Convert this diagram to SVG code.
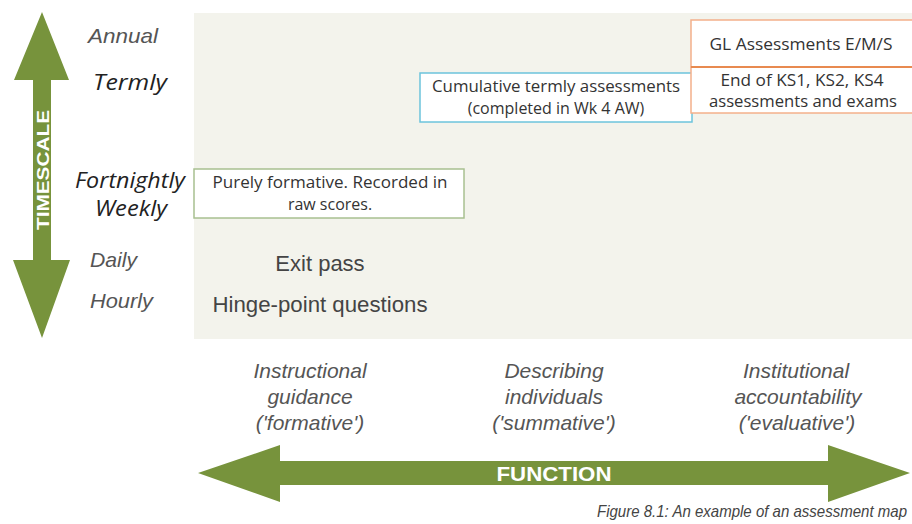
<svg xmlns="http://www.w3.org/2000/svg" width="912" height="524" viewBox="0 0 912 524">
<style>
.ax{fill:#77933c}
.axt{font-family:"Liberation Sans",Arial,sans-serif;font-weight:bold;fill:#ffffff}
.ts{font-family:"Liberation Sans",Arial,sans-serif;font-style:italic;fill:#555555;font-size:21px}
.tc{font-family:"Open Sans","Noto Sans",sans-serif;font-style:italic;fill:#222222;font-size:22px}
.box{fill:#ffffff;stroke-width:1.5}
.bt{font-family:"Open Sans","Noto Sans",sans-serif;fill:#333333;font-size:16px;text-anchor:middle}
.pl{font-family:"Liberation Sans",Arial,sans-serif;fill:#444444;font-size:22px;text-anchor:middle}
.fn{font-family:"Liberation Sans",Arial,sans-serif;font-style:italic;fill:#555555;font-size:21px;text-anchor:middle}
.cap{font-family:"Liberation Sans",Arial,sans-serif;font-style:italic;fill:#444444;font-size:17px}
</style>
<rect x="0" y="0" width="912" height="524" fill="#ffffff"/>
<rect id="panel" x="194" y="13" width="718" height="326" fill="#f3f3ec"/>
<g id="timescale-arrow">
<polygon class="ax" points="42,12 69,80 51,80 51,260 70,260 42,338 13,260 33,260 33,80 14,80"/>
<text class="axt" x="0" y="0" font-size="17" text-anchor="middle" transform="translate(49,170) rotate(-90)" textLength="120" lengthAdjust="spacingAndGlyphs">TIMESCALE</text>
</g>
<g id="timescale-labels">
<text class="ts" x="88" y="43" textLength="70" lengthAdjust="spacingAndGlyphs">Annual</text>
<text class="tc" x="93" y="90" textLength="74" lengthAdjust="spacingAndGlyphs">Termly</text>
<text class="tc" x="75" y="188" textLength="110" lengthAdjust="spacingAndGlyphs">Fortnightly</text>
<text class="tc" x="95" y="216" textLength="72" lengthAdjust="spacingAndGlyphs">Weekly</text>
<text class="ts" x="90" y="267" textLength="47" lengthAdjust="spacingAndGlyphs">Daily</text>
<text class="ts" x="90" y="308" textLength="63" lengthAdjust="spacingAndGlyphs">Hourly</text>
</g>
<g id="node-purely-formative">
<rect class="box" x="194" y="169" width="270" height="49" stroke="#a8c090"/>
<text class="bt" x="330" y="188" textLength="235" lengthAdjust="spacingAndGlyphs">Purely formative. Recorded in</text>
<text class="bt" x="330" y="210">raw scores.</text>
</g>
<g id="node-cumulative">
<rect class="box" x="420" y="73" width="272" height="49" stroke="#6cc4dc"/>
<text class="bt" x="556" y="92" textLength="248" lengthAdjust="spacingAndGlyphs">Cumulative termly assessments</text>
<text class="bt" x="556" y="114">(completed in Wk 4 AW)</text>
</g>
<g id="node-gl">
<rect class="box" x="691" y="20" width="225" height="47" stroke="#f4b08a"/>
<text class="bt" x="801" y="50" textLength="183" lengthAdjust="spacingAndGlyphs">GL Assessments E/M/S</text>
</g>
<g id="node-ks">
<rect class="box" x="691" y="67" width="225" height="46" stroke="#f4b08a"/>
<line x1="691" y1="67" x2="912" y2="67" stroke="#e88a50" stroke-width="2"/>
<text class="bt" x="802" y="86" textLength="163" lengthAdjust="spacingAndGlyphs">End of KS1, KS2, KS4</text>
<text class="bt" x="803" y="107" textLength="188" lengthAdjust="spacingAndGlyphs">assessments and exams</text>
</g>
<g id="node-exit-pass">
<text class="pl" x="320" y="271">Exit pass</text>
</g>
<g id="node-hinge">
<text class="pl" x="320" y="312" textLength="215" lengthAdjust="spacingAndGlyphs">Hinge-point questions</text>
</g>
<g id="function-labels">
<text class="fn" x="310" y="378">Instructional</text>
<text class="fn" x="310" y="404">guidance</text>
<text class="fn" x="310" y="430">('formative')</text>
<text class="fn" x="554" y="378">Describing</text>
<text class="fn" x="554" y="404">individuals</text>
<text class="fn" x="554" y="430">('summative')</text>
<text class="fn" x="796" y="378">Institutional</text>
<text class="fn" x="798" y="404">accountability</text>
<text class="fn" x="797" y="430">('evaluative')</text>
</g>
<g id="connectors">
<g id="function-arrow">
<polygon class="ax" points="198,473 280,445 280,461 828,461 828,445 910,473 828,502 828,485 280,485 280,502"/>
<text class="axt" x="554" y="481" font-size="20" text-anchor="middle" textLength="115" lengthAdjust="spacingAndGlyphs">FUNCTION</text>
</g>
</g>
<text class="cap" x="597" y="517" textLength="310" lengthAdjust="spacingAndGlyphs">Figure 8.1: An example of an assessment map</text>
</svg>
